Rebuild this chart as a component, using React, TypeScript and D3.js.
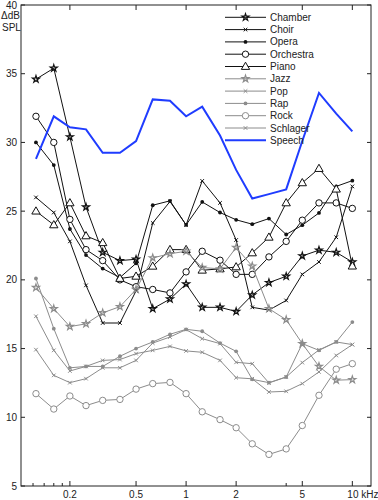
import React from "react";
import * as d3 from "d3";

const freqs = [0.125, 0.16, 0.2, 0.25, 0.315, 0.4, 0.5, 0.63, 0.8, 1, 1.25, 1.6, 2, 2.5, 3.15, 4, 5, 6.3, 8, 10];

const chamber = [34.6, 35.4, 30.4, 25.3, 22.0, 21.4, 21.5, 17.9, 18.6, 19.7, 18.0, 18.0, 17.7, 18.9, 19.8, 20.26, 21.74, 22.16, 22.0, 21.3];
const choir = [26.0, 24.9, 22.8, 19.6, 16.86, 16.86, 19.2, 24.14, 25.7, 24.0, 27.2, 25.6, 22.9, 18.0, 17.8, 18.5, 20.4, 21.3, 23.1, 26.8];
const opera = [30.0, 28.35, 23.7, 21.8, 20.82, 20.17, 21.2, 25.43, 25.75, 24.0, 25.67, 24.9, 24.37, 24.05, 24.46, 23.3, 23.98, 24.87, 26.8, 27.22];
const orchestra = [31.9, 30.0, 24.4, 22.2, 21.4, 20.0, 19.5, 19.3, 19.05, 20.58, 22.08, 21.43, 20.4, 20.4, 21.67, 22.8, 24.34, 25.6, 25.6, 25.2];
const piano = [25.0, 24.0, 25.6, 23.2, 22.7, 20.1, 20.26, 20.99, 22.2, 22.2, 20.7, 20.8, 20.94, 21.96, 23.1, 25.6, 27.06, 28.1, 26.6, 21.0];
const jazz = [19.44, 17.9, 16.6, 16.8, 17.6, 18.05, 19.3, 21.6, 21.9, 22.08, 20.9, 20.8, 22.35, 21.0, 17.9, 17.1, 15.36, 13.7, 12.7, 12.74];
const pop = [17.35, 14.87, 13.37, 13.7, 14.14, 14.2, 14.63, 14.87, 15.16, 14.83, 14.73, 14.14, 12.88, 12.8, 11.84, 11.89, 12.45, 13.3, 14.5, 15.29];
const rap = [20.1, 16.45, 13.6, 13.7, 13.7, 14.44, 15.0, 15.48, 16.04, 16.4, 16.26, 15.4, 14.8, 12.76, 12.52, 12.93, 15.36, 14.87, 15.48, 16.93];
const rock = [11.72, 10.6, 11.55, 10.85, 11.23, 11.3, 12.05, 12.45, 12.54, 11.72, 10.4, 9.83, 9.24, 8.07, 7.3, 7.7, 9.4, 11.6, 13.5, 13.9];
const schlager = [14.92, 13.05, 12.52, 12.81, 13.6, 13.6, 14.14, 15.4, 15.84, 16.38, 15.72, 15.36, 14.0, 13.9, 12.5, 12.93, 13.98, 14.9, 15.48, 15.29];
const speech = [28.8, 31.9, 31.1, 30.95, 29.24, 29.24, 30.1, 33.13, 33.03, 31.9, 32.6, 30.5, 28.0, 25.92, 26.24, 26.58, 30.1, 33.6, 32.1, 30.8];

const xTickValues = [0.2, 0.5, 1, 2, 5, 10];
const xTickLabels = ["0.2", "0.5", "1", "2", "5", "10 kHz"];
const xMinorTicks = [0.12, 0.14, 0.16, 0.18, 4];
const yTickValues = [5, 10, 15, 20, 25, 30, 35, 40];

type Marker = "star" | "x" | "dot" | "circle" | "triangle" | "none";
const BLACK = "#111";
const GRAY = "#8c8c8c";
const BLUE = "#1f3cff";

const seriesList: { name: string; values: number[]; color: string; marker: Marker; width: number }[] = [
  { name: "Chamber", values: chamber, color: BLACK, marker: "star", width: 1 },
  { name: "Choir", values: choir, color: BLACK, marker: "x", width: 1 },
  { name: "Opera", values: opera, color: BLACK, marker: "dot", width: 1 },
  { name: "Orchestra", values: orchestra, color: BLACK, marker: "circle", width: 1 },
  { name: "Piano", values: piano, color: BLACK, marker: "triangle", width: 1 },
  { name: "Jazz", values: jazz, color: GRAY, marker: "star", width: 1 },
  { name: "Pop", values: pop, color: GRAY, marker: "x", width: 1 },
  { name: "Rap", values: rap, color: GRAY, marker: "dot", width: 1 },
  { name: "Rock", values: rock, color: GRAY, marker: "circle", width: 1 },
  { name: "Schlager", values: schlager, color: GRAY, marker: "x", width: 1 },
  { name: "Speech", values: speech, color: BLUE, marker: "none", width: 2 },
];

const starPath = d3.symbol().type(d3.symbolStar).size(15)()!;
const triPath = d3.symbol().type(d3.symbolTriangle).size(30)()!;

function MarkerShape({ m, x, y, color }: { m: Marker; x: number; y: number; color: string }) {
  switch (m) {
    case "star":
      return <path d={starPath} transform={`translate(${x},${y})`} fill="none" stroke={color} strokeWidth={1.2} />;
    case "triangle":
      return <path d={triPath} transform={`translate(${x},${y + 0.5})`} fill="white" stroke={color} strokeWidth={1} />;
    case "circle":
      return <circle cx={x} cy={y} r={3.2} fill="white" stroke={color} strokeWidth={1} />;
    case "dot":
      return <circle cx={x} cy={y} r={1.9} fill={color} />;
    case "x":
      return (
        <path d={`M${x - 1.8},${y - 1.8}L${x + 1.8},${y + 1.8}M${x - 1.8},${y + 1.8}L${x + 1.8},${y - 1.8}`} stroke={color} strokeWidth={1} />
      );
    default:
      return null;
  }
}

export default function App() {
  const W = 378, H = 500;
  const left = 21, right = 371, top = 5, bottom = 486;
  const x = d3.scaleLog().domain([0.1016, 12.95]).range([left, right]);
  const y = d3.scaleLinear().domain([5, 40]).range([bottom, top]);
  const line = d3
    .line<number>()
    .x((_, i) => x(freqs[i]))
    .y((d) => y(d));
  const font = "'Liberation Sans', Arial, Helvetica, sans-serif";

  return (
    <svg width={W} height={H} style={{ position: "absolute", left: 0, top: 0, background: "white" }} fontFamily={font}>
      <rect x={0} y={0} width={W} height={H} fill="white" />
      <rect x={left} y={top} width={right - left} height={bottom - top} fill="none" stroke="#222" strokeWidth={1} />
      {yTickValues.map((v) => (
        <g key={v}>
          <line x1={left} x2={left + 4} y1={y(v)} y2={y(v)} stroke="#222" />
          <line x1={right - 4} x2={right} y1={y(v)} y2={y(v)} stroke="#222" />
          <text x={left - 4} y={y(v)} dy="0.35em" textAnchor="end" fontSize={10} fill="#222">
            {v}
          </text>
        </g>
      ))}
      {xTickValues.map((v, i) => (
        <g key={v}>
          <line x1={x(v)} x2={x(v)} y1={bottom} y2={bottom - 5} stroke="#222" />
          <line x1={x(v)} x2={x(v)} y1={top} y2={top + 5} stroke="#222" />
          <text x={x(v)} y={bottom + 12} textAnchor={i === xTickValues.length - 1 ? "start" : "middle"} dx={i === xTickValues.length - 1 ? -5 : 0} fontSize={10} fill="#222">
            {xTickLabels[i]}
          </text>
        </g>
      ))}
      {xMinorTicks.map((v) => (
        <line key={v} x1={x(v)} x2={x(v)} y1={bottom} y2={bottom - 3} stroke="#222" />
      ))}
      <text x={1} y={19} fontSize={10} fill="#222">ΔdB</text>
      <text x={2} y={31} fontSize={10} fill="#222">SPL</text>
      {seriesList.map((s) => (
        <g key={s.name}>
          <path d={line(s.values)!} fill="none" stroke={s.color} strokeWidth={s.width} />
          {s.marker !== "none" &&
            s.values.map((v, i) => <MarkerShape key={i} m={s.marker} x={x(freqs[i])} y={y(v)} color={s.color} />)}
        </g>
      ))}
      {seriesList.map((s, i) => {
        const ly = 17.3 + i * 12.3;
        return (
          <g key={"lg" + s.name}>
            <line x1={225} x2={266} y1={ly} y2={ly} stroke={s.color} strokeWidth={s.width} />
            {s.marker !== "none" && <MarkerShape m={s.marker} x={245.5} y={ly} color={s.color} />}
            <text x={270} y={ly} dy="0.35em" fontSize={10} fill="#222">
              {s.name}
            </text>
          </g>
        );
      })}
    </svg>
  );
}
